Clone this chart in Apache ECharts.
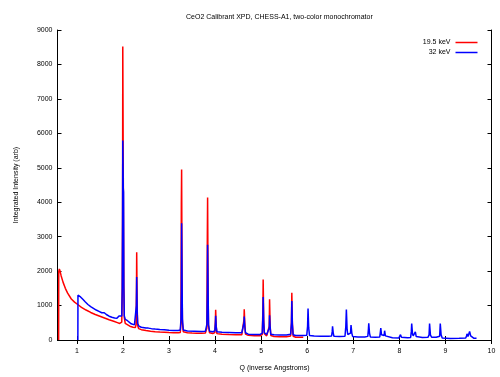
<!DOCTYPE html>
<html>
<head>
<meta charset="utf-8">
<script src="https://cdn.jsdelivr.net/npm/echarts@6/dist/echarts.min.js"></script>
<style>html,body{margin:0;padding:0;background:#fff}#c{width:500px;height:377px}</style>
</head>
<body>
<div id="c"></div>
<script>
const titleText = 'CeO2 Calibrant XPD, CHESS-A1, two-color monochromator';
const seriesNames = ['19.5 keV', '32 keV'];
const xTicks = [1, 2, 3, 4, 5, 6, 7, 8, 9, 10];
const yTicks = [0, 1000, 2000, 3000, 4000, 5000, 6000, 7000, 8000, 9000];

// 19.5 keV : [Q, intensity]
const red195 = [
[0.605,0],[0.607,1990],[0.62,2060],[0.635,2000],[0.66,1860],[0.70,1680],[0.75,1500],[0.80,1360],[0.88,1190],[0.95,1100],
[1.02,1030],[1.10,950],[1.20,870],[1.30,800],[1.40,740],[1.50,690],[1.60,640],[1.70,590],[1.80,545],[1.88,505],
[1.93,480],[1.96,470],[1.975,520],[1.985,1500],[1.992,3650],[1.997,8520],[2.003,8520],[2.008,4700],[2.014,4700],[2.02,1600],
[2.03,650],[2.05,480],[2.08,440],[2.15,400],[2.22,370],[2.27,360],[2.285,450],[2.294,1400],[2.299,2545],[2.304,2545],
[2.31,900],[2.32,420],[2.34,330],[2.40,300],[2.50,275],[2.60,255],[2.70,240],[2.80,232],[2.90,225],[3.00,218],
[3.10,212],[3.20,208],[3.245,220],[3.26,500],[3.268,3960],[3.274,4950],[3.28,4950],[3.285,1400],[3.292,500],[3.31,240],
[3.40,210],[3.50,202],[3.60,198],[3.70,195],[3.79,200],[3.822,350],[3.832,3000],[3.838,4140],[3.844,4140],[3.85,1200],
[3.858,400],[3.88,210],[3.95,190],[3.995,215],[4.008,600],[4.013,880],[4.018,880],[4.025,400],[4.04,185],[4.15,165],
[4.30,158],[4.45,152],[4.58,150],[4.618,200],[4.628,600],[4.633,895],[4.638,895],[4.645,500],[4.66,170],[4.72,135],
[4.85,125],[4.98,122],[5.025,160],[5.038,900],[5.044,1756],[5.049,1756],[5.056,600],[5.07,180],[5.12,120],[5.16,125],
[5.176,400],[5.183,1180],[5.188,1180],[5.196,400],[5.21,130],[5.28,100],[5.40,95],[5.55,95],[5.64,115],[5.658,500],
[5.666,1375],[5.671,1375],[5.678,500],[5.695,110],[5.75,82],[5.85,78],[5.914,78]
];

// 32 keV : [Q, intensity]
const blue32 = [
[1.022,0],[1.024,1300],[1.04,1290],[1.06,1260],[1.08,1250],[1.10,1230],[1.13,1180],[1.18,1110],[1.24,1030],[1.30,970],
[1.36,920],[1.42,870],[1.48,830],[1.54,790],[1.58,770],[1.595,790],[1.61,830],[1.625,790],[1.64,740],[1.70,690],
[1.76,660],[1.82,640],[1.87,630],[1.90,650],[1.915,700],[1.93,660],[1.955,650],[1.975,700],[1.985,1500],[1.992,3400],
[1.997,5790],[2.003,5790],[2.008,4400],[2.014,4300],[2.02,1500],[2.03,700],[2.05,600],[2.10,560],[2.18,470],[2.25,440],
[2.28,460],[2.292,1000],[2.299,1830],[2.304,1830],[2.31,800],[2.32,480],[2.35,400],[2.40,370],[2.50,350],[2.52,370],
[2.55,345],[2.58,360],[2.62,330],[2.70,318],[2.80,305],[2.90,295],[3.00,285],[3.10,278],[3.20,275],[3.245,290],
[3.26,600],[3.268,1400],[3.274,3390],[3.28,3390],[3.286,1400],[3.292,600],[3.31,290],[3.40,262],[3.55,255],[3.70,248],
[3.79,255],[3.822,450],[3.832,1400],[3.838,2765],[3.844,2765],[3.85,1300],[3.858,450],[3.88,255],[3.95,240],[3.995,265],
[4.008,500],[4.013,700],[4.018,700],[4.025,380],[4.04,240],[4.15,222],[4.30,218],[4.45,212],[4.58,210],[4.618,250],
[4.628,500],[4.633,680],[4.638,680],[4.645,400],[4.66,210],[4.72,170],[4.85,160],[4.98,160],[5.025,200],[5.038,700],
[5.044,1250],[5.049,1250],[5.056,500],[5.07,210],[5.12,160],[5.16,165],[5.176,350],[5.183,715],[5.188,715],[5.196,350],
[5.21,165],[5.28,150],[5.40,148],[5.55,148],[5.64,165],[5.658,500],[5.666,1135],[5.671,1135],[5.678,450],[5.695,150],
[5.75,130],[5.90,128],[5.99,135],[6.008,400],[6.018,915],[6.024,915],[6.032,350],[6.05,130],[6.15,115],[6.30,110],
[6.45,108],[6.53,118],[6.543,250],[6.55,395],[6.556,395],[6.565,200],[6.58,108],[6.70,105],[6.82,110],[6.838,400],
[6.85,885],[6.856,885],[6.866,300],[6.88,160],[6.94,200],[6.951,435],[6.958,435],[6.968,200],[6.985,105],[7.10,90],
[7.25,90],[7.315,105],[7.328,300],[7.336,485],[7.342,485],[7.352,200],[7.37,90],[7.48,80],[7.575,90],[7.59,250],
[7.597,345],[7.603,345],[7.613,150],[7.63,100],[7.67,130],[7.68,270],[7.686,270],[7.697,120],[7.72,75],[7.85,65],
[7.99,60],[8.015,100],[8.025,155],[8.032,155],[8.045,80],[8.06,60],[8.18,62],[8.245,75],[8.26,250],[8.268,480],
[8.274,480],[8.285,180],[8.30,120],[8.335,150],[8.347,235],[8.354,235],[8.366,100],[8.39,75],[8.50,75],[8.62,78],
[8.645,150],[8.656,480],[8.663,480],[8.674,150],[8.70,80],[8.80,78],[8.875,110],[8.888,480],[8.895,480],[8.906,150],
[8.93,55],[9.10,45],[9.30,50],[9.44,60],[9.46,120],[9.468,180],[9.475,150],[9.49,100],[9.515,150],[9.525,250],
[9.533,250],[9.548,120],[9.57,70],[9.62,50],[9.675,48]
];

const FONT = 'Liberation Sans';
const chart = echarts.init(document.getElementById('c'), null, {renderer: 'canvas'});
const tickStyle = {show: true, inside: true, length: 4, lineStyle: {color: '#000', width: 1}};
const lineAx = {show: true, lineStyle: {color: '#000', width: 1}};
chart.setOption({
  animation: false,
  backgroundColor: '#fff',
  title: {
    text: titleText, left: 181, top: 9,
    textStyle: {fontFamily: FONT, fontSize: 7, fontWeight: 'normal', color: '#000'}
  },
  legend: {
    orient: 'vertical', right: 17.5, top: 34, align: 'right', icon: 'rect',
    itemWidth: 22, itemHeight: 1.5, itemGap: 3,
    textStyle: {fontFamily: FONT, fontSize: 7, color: '#000'},
    data: seriesNames
  },
  grid: {left: 57.5, right: 8.5, top: 30, bottom: 34},
  xAxis: [{
    type: 'value', min: 0.58, max: 10, position: 'bottom',
    name: 'Q (inverse Angstroms)', nameLocation: 'middle', nameGap: 25,
    nameTextStyle: {fontFamily: FONT, fontSize: 7, color: '#000'},
    axisLine: lineAx,
    axisTick: Object.assign({customValues: xTicks}, tickStyle),
    axisLabel: {customValues: xTicks, margin: 8, fontFamily: FONT, fontSize: 7, color: '#000', formatter: v => String(v)},
    splitLine: {show: false}
  }, {
    type: 'value', min: 0.58, max: 10, position: 'top',
    axisLine: lineAx,
    axisTick: Object.assign({customValues: xTicks}, tickStyle),
    axisLabel: {show: false},
    splitLine: {show: false}
  }],
  yAxis: [{
    type: 'value', min: 0, max: 9000, interval: 1000, position: 'left',
    name: 'Integrated Intensity (arb)', nameLocation: 'middle', nameGap: 38, nameRotate: 90,
    nameTextStyle: {fontFamily: FONT, fontSize: 7, color: '#000'},
    axisLine: lineAx,
    axisTick: Object.assign({customValues: yTicks}, tickStyle),
    axisLabel: {customValues: yTicks, margin: 5, fontFamily: FONT, fontSize: 7, color: '#000', formatter: v => String(v)},
    splitLine: {show: false}
  }, {
    type: 'value', min: 0, max: 9000, interval: 1000, position: 'right',
    axisLine: lineAx,
    axisTick: Object.assign({customValues: yTicks}, tickStyle),
    axisLabel: {show: false},
    splitLine: {show: false}
  }],
  series: [{
    name: seriesNames[0], type: 'line', data: red195, showSymbol: false, symbol: 'none',
    color: '#ff0000', lineStyle: {color: '#ff0000', width: 1.5}, xAxisIndex: 0, yAxisIndex: 0, z: 2
  }, {
    name: seriesNames[1], type: 'line', data: blue32, showSymbol: false, symbol: 'none',
    color: '#0000ff', lineStyle: {color: '#0000ff', width: 1.5}, xAxisIndex: 0, yAxisIndex: 0, z: 3
  }]
});
</script>
</body>
</html>
